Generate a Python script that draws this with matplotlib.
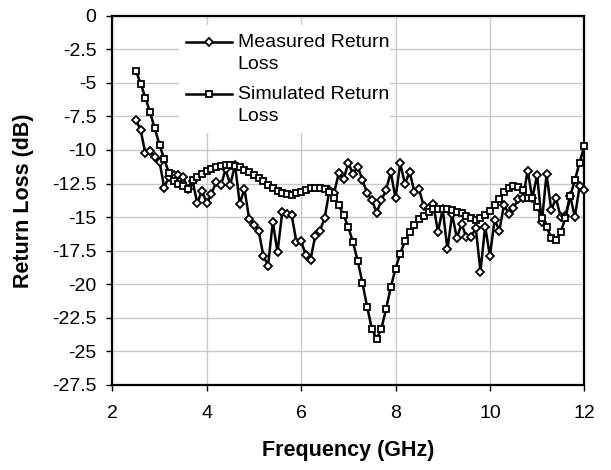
import numpy as np
import matplotlib
matplotlib.use('Agg')
import matplotlib.pyplot as plt
from matplotlib.patches import Rectangle

plt.rcParams['font.family'] = ['Liberation Sans', 'DejaVu Sans']

# frequency sweep, 0.1 GHz steps from 2.5 to 12 GHz
freq_ghz = np.linspace(2.5, 12.0, 96)

measured_db = [
    -7.8, -8.5, -10.25, -10.05, -10.55, -10.87, -12.8, -12.0, -11.9, -11.9,
    -12.0, -12.9, -12.3, -13.96, -13.04, -13.96, -13.29, -12.37, -12.64, -11.45,
    -12.58, -11.1, -14.0, -12.9, -15.14, -15.58, -16.0, -17.87, -18.62, -15.34,
    -17.62, -14.64, -14.76, -14.84, -16.83, -16.78, -17.82, -18.17, -16.38, -16.0,
    -15.04, -13.0, -13.2, -11.69, -12.19, -10.95, -11.8, -11.24, -12.24, -13.23,
    -13.73, -14.68, -13.73, -12.99, -11.64, -13.6, -11.0, -12.51, -11.64, -13.13,
    -12.94, -14.2, -14.3, -14.05, -16.1, -14.4, -17.4, -14.8, -16.55, -15.5,
    -16.5, -16.5, -15.8, -19.05, -15.7, -17.9, -15.2, -16.0, -14.07, -14.8,
    -14.3, -13.67, -13.6, -11.55, -13.6, -11.85, -15.4, -11.8, -14.45, -13.6,
    -15.0, -14.95, -13.4, -15.0, -12.7, -13.0,
]

simulated_db = [
    -4.1, -5.05, -6.1, -7.2, -8.4, -9.6, -10.7, -11.7, -12.3, -12.5,
    -12.7, -12.9, -12.2, -12.0, -11.8, -11.6, -11.45, -11.3, -11.2, -11.1,
    -11.1, -11.16, -11.28, -11.46, -11.65, -11.85, -12.1, -12.33, -12.6, -12.85,
    -13.05, -13.2, -13.3, -13.32, -13.22, -13.1, -12.95, -12.85, -12.8, -12.8,
    -12.9, -13.1, -13.55, -14.13, -14.85, -15.75, -16.87, -18.28, -19.9, -21.7,
    -23.33, -24.05, -23.33, -21.84, -20.22, -18.83, -17.71, -16.79, -16.09, -15.55,
    -15.12, -14.88, -14.63, -14.43, -14.43, -14.43, -14.43, -14.48, -14.6, -14.73,
    -14.88, -15.05, -15.23, -15.05, -14.85, -14.55, -14.13, -13.65, -13.13, -12.8,
    -12.66, -12.73, -13.0, -13.6, -13.57, -14.26, -15.07, -15.74, -16.53, -16.67,
    -16.1, -15.07, -13.45, -12.24, -10.94, -9.7,
]

x_ticks = [2, 4, 6, 8, 10, 12]
y_ticks = [0, -2.5, -5, -7.5, -10, -12.5, -15, -17.5, -20, -22.5, -25, -27.5]
y_tick_labels = ['0', '-2.5', '-5', '-7.5', '-10', '-12.5', '-15', '-17.5',
                 '-20', '-22.5', '-25', '-27.5']
legend_lines = [['Measured Return', 'Loss'], ['Simulated Return', 'Loss']]

fig = plt.figure(figsize=(6.11, 4.70), dpi=100)
ax = fig.add_axes([0.1838, 0.1809, 0.7725, 0.7857])

meas_style = dict(color='black', lw=1.8, marker='D', markersize=3.8,
                  markerfacecolor='white', markeredgecolor='black', markeredgewidth=1.3)
sim_style = dict(color='black', lw=1.8, marker='s', markersize=4.5,
                 markerfacecolor='white', markeredgecolor='black', markeredgewidth=1.3)

ax.plot(freq_ghz, measured_db, zorder=5, clip_on=False, **meas_style)
ax.plot(freq_ghz, simulated_db, zorder=5, clip_on=False, **sim_style)

ax.set_xlim(2, 12)
ax.set_ylim(-27.5, 0)
ax.set_xticks(x_ticks)
ax.set_yticks(y_ticks)
ax.set_yticklabels(y_tick_labels)
ax.grid(True, color='#c8c8c8', lw=1.0)
ax.set_axisbelow(True)
ax.tick_params(direction='out', length=4.5, width=1, labelsize=14, pad=7)
ax.tick_params(axis='x', pad=10)
for s in ax.spines.values():
    s.set_linewidth(1.6)
    s.set_color('black')

ax.set_xlabel('Frequency (GHz)', fontsize=15.5, fontweight='bold', labelpad=13)
ax.set_ylabel('Return Loss (dB)', fontsize=15.5, fontweight='bold', labelpad=13)

# legend drawn by hand so the handle sits on the first text line
ax.add_patch(Rectangle((0.1413, 0.6825), 0.447, 0.2923, transform=ax.transAxes,
                       facecolor='white', edgecolor='none', zorder=6))
for i, (lines, style) in enumerate(zip(legend_lines, [meas_style, sim_style])):
    y0 = 0.928 - i * 0.1408
    ax.plot([0.1561, 0.2049, 0.2536], [y0, y0, y0], transform=ax.transAxes,
            markevery=[1], zorder=7, clip_on=False, **style)
    ax.text(0.2657, y0, lines[0], transform=ax.transAxes, fontsize=14,
            va='center', ha='left', zorder=7)
    ax.text(0.2657, y0 - 0.0595, lines[1], transform=ax.transAxes, fontsize=14,
            va='center', ha='left', zorder=7)

fig.savefig('out.png', dpi=100, facecolor='white')
